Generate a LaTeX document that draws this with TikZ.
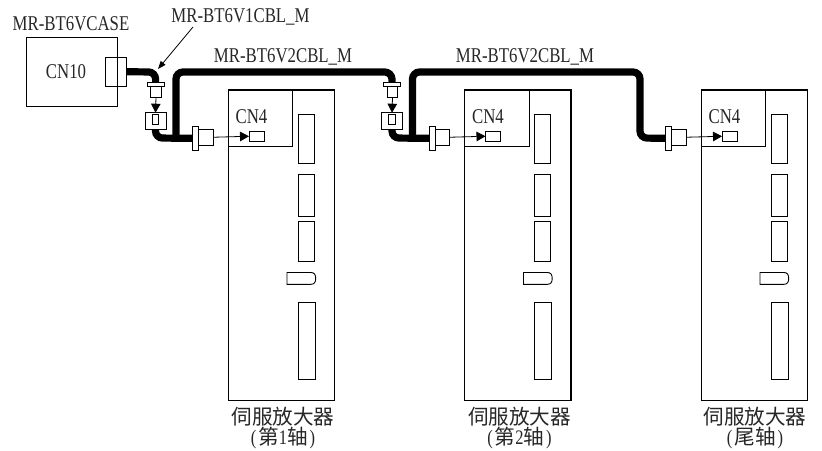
\documentclass[tikz,border=0pt]{standalone}
\usepackage{fontspec}
\usetikzlibrary{arrows.meta}
\setmainfont[FakeStretch=0.8]{Liberation Serif}
\newfontfamily\cjkf{Noto Sans CJK SC}
\tikzset{
  part/.style={draw=black,line width=0.9pt,inner sep=0pt,outer sep=0pt,fill=white},
  hollow/.style={part,fill=none},
  heavy/.style={part,line width=1.1pt},
  cable/.style={draw=black,line width=7.2pt,rounded corners=7pt},
  lead/.style={draw=black,line width=0.8pt,-{Triangle[length=9pt,width=9.5pt]}},
  thinlead/.style={draw=black,line width=0.8pt,-{Triangle[length=8pt,width=6pt]}},
  lab/.style={anchor=base,inner sep=0pt,text=black!85,font=\fontsize{21pt}{21pt}\selectfont},
  cjklab/.style={anchor=base,inner sep=0pt,text=black!85,font=\fontsize{20.6pt}{21pt}\cjkf},
}
\newcommand{\boxn}[6][part]{%
  \pgfmathsetmacro{\cxx}{((#3)+(#5))/2}\pgfmathsetmacro{\cyy}{((#4)+(#6))/2}%
  \pgfmathsetmacro{\ww}{(#5)-(#3)}\pgfmathsetmacro{\hh}{(#6)-(#4)}%
  \node[#1,minimum width=\ww pt,minimum height=\hh pt] (#2) at (\cxx,\cyy) {};}
\begin{document}
\begin{tikzpicture}[x=1pt,y=-1pt]
\useasboundingbox (0,0) rectangle (822,450);
% battery case
\boxn{caseb}{26.7}{37.3}{117.3}{106.7}
\node[lab] (casen) at (71,30) {MR-BT6VCASE};
\node[lab] (cn10) at (66,78.5) {CN10};
\boxn[hollow]{casec}{105.7}{57.5}{126.7}{86}
% amplifiers
\foreach \o/\n/\t/\s in {0/a/283/{(\hspace{2pt}\cjkf 第\rmfamily 1\cjkf 轴\rmfamily\hspace{2pt})},236.5/b/519.5/{(\hspace{2pt}\cjkf 第\rmfamily 2\cjkf 轴\rmfamily\hspace{2pt})},473/c/755/{(\hspace{2pt}\cjkf 尾轴\rmfamily\hspace{2pt})}}{
  \boxn[heavy]{amp\n}{228.3+\o}{90}{334.5+\o}{400.7}
  \boxn{cnb\n}{228.3+\o}{90}{292.5+\o}{146}
  \boxn{slota\n}{298.3+\o}{114}{314+\o}{163}
  \boxn{slotb\n}{298.3+\o}{174}{314+\o}{216}
  \boxn{slotc\n}{298.3+\o}{221.7}{314+\o}{261.5}
  \boxn{slotd\n}{298.3+\o}{302.3}{315+\o}{379.3}
  \draw[line width=0.9pt] (287+\o,272.5) -- (311+\o,272.5) .. controls (314.5+\o,272.5) and (315.7+\o,275) .. (315.7+\o,278.4) .. controls (315.7+\o,282) and (314.5+\o,284.3) .. (311+\o,284.3) -- (287+\o,284.3) -- cycle;
  \boxn{jack\n}{249+\o}{131.5}{264+\o}{141}
  \node[lab] (cnt\n) at (251.5+\o,123) {CN4};
  \node[cjklab] (ampt\n) at (\t,424.5) {伺服放大器};
  \node[anchor=base,inner sep=0pt,text=black!85,font=\fontsize{20.6pt}{21pt}\selectfont] (axis\n) at (\t,444) {\s};
}
% coordinates of the cable runs
\coordinate (ja) at (176,138);
\coordinate (jb) at (412.5,138);
\coordinate (ta) at (176,72);
\coordinate (tb) at (412.5,72);
\coordinate (ua) at (391.7,72);
\coordinate (ub) at (640,72);
\coordinate (uc) at (640,138);
\coordinate (da) at (155.5,72);
\coordinate (ea) at (155.5,138);
\coordinate (eb) at (392,138);
% plugs / sockets (anchors for the cables)
\boxn{plugfa}{147}{82.7}{164.3}{86.7}
\boxn{plugba}{150.7}{86.7}{161.3}{97.3}
\boxn{socka}{145}{112.7}{166}{129.3}
\boxn{plugfb}{383.5}{82.7}{400.8}{86.7}
\boxn{plugbb}{387.2}{86.7}{397.8}{97.3}
\boxn{sockb}{381.5}{112.7}{402.5}{129.3}
\boxn{flangea}{192.5}{126}{198.5}{150.7}
\boxn{flangeb}{429}{126}{435}{150.7}
\boxn{flangec}{665.5}{126}{671.5}{150.7}
% cables
\draw[cable] (casec.east) -- (da) -- (plugfa.north);
\draw[cable] (socka.south) -- (ea) -- (flangea.west);
\draw[cable] (ja) -- (ta) -- (ua) -- (plugfb.north);
\draw[cable] (sockb.south) -- (eb) -- (flangeb.west);
\draw[cable] (jb) -- (tb) -- (ub) -- (uc) -- (flangec.west);
% redraw fronts over cables
\boxn{plugfa2}{147}{82.7}{164.3}{86.7}
\boxn{socka2}{145}{112.7}{166}{129.3}
\boxn{pina}{152.3}{114.3}{158.7}{124}
\boxn{plugfb2}{383.5}{82.7}{400.8}{86.7}
\boxn{sockb2}{381.5}{112.7}{402.5}{129.3}
\boxn{pinb}{388.8}{114.3}{395.2}{124}
\boxn{flangea2}{192.5}{126}{198.5}{150.7}
\boxn{flangeb2}{429}{126}{435}{150.7}
\boxn{flangec2}{665.5}{126}{671.5}{150.7}
\boxn{bodya}{198.5}{129.5}{213}{145}
\boxn{bodyb}{435}{129.5}{449.5}{145}
\boxn{bodyc}{671.5}{129.5}{686}{145}
% mating arrows
\draw[lead] (plugba.south) -- (socka2.north);
\draw[lead] (plugbb.south) -- (sockb2.north);
\draw[lead] (bodya.east) -- (jacka.west);
\draw[lead] (bodyb.east) -- (jackb.west);
\draw[lead] (bodyc.east) -- (jackc.west);
% cable labels
\node[lab] (vone) at (240.5,22) {MR-BT6V1CBL\_M};
\node[lab] (vtwoa) at (283,62) {MR-BT6V2CBL\_M};
\node[lab] (vtwob) at (525,62) {MR-BT6V2CBL\_M};
\coordinate (leadend) at (158,69);
\coordinate (leadstart) at (193,27);
\draw[thinlead] (leadstart) -- (leadend);
\end{tikzpicture}
\end{document}
